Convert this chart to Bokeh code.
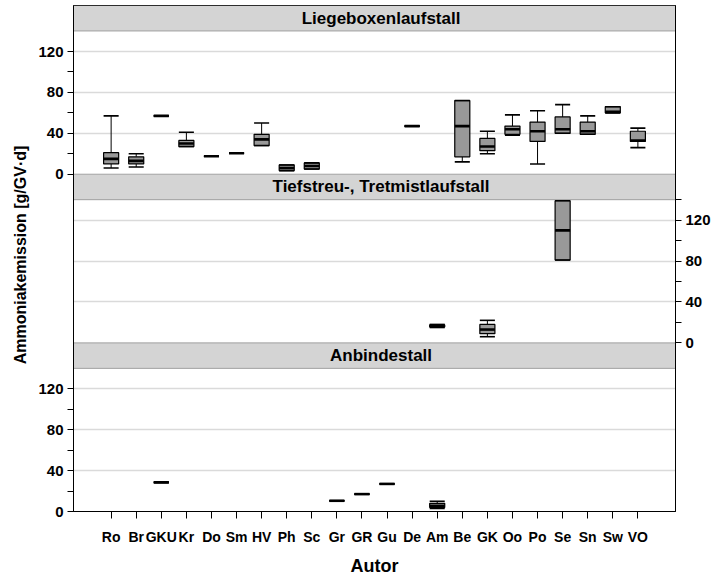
import math
from bokeh.plotting import figure
from bokeh.models import (FactorRange, Range1d, FixedTicker, BoxAnnotation,
                          ColumnDataSource, LinearAxis, CustomJSTickFormatter)
from bokeh.layouts import row
from bokeh.embed import file_html
from bokeh.resources import INLINE
from bokeh.core.properties import value

# ---------------- data ----------------
authors = ["Ro", "Br", "GKU", "Kr", "Do", "Sm", "HV", "Ph", "Sc", "Gr", "GR", "Gu",
           "De", "Am", "Be", "GK", "Oo", "Po", "Se", "Sn", "Sw", "VO"]

panel_titles = ["Liegeboxenlaufstall", "Tiefstreu-, Tretmistlaufstall", "Anbindestall"]
y_ticks = [0, 40, 80, 120]
y_minor = [20, 60, 100]

# Liegeboxenlaufstall
lb_author = ["Ro", "Br", "GKU", "Kr", "Do", "Sm", "HV", "Ph", "Sc", "De", "Be", "GK",
             "Oo", "Po", "Se", "Sn", "Sw", "VO"]
lb_low    = [6, 7, 57, 27, 17.5, 20.5, 28, 3.5, 5, 47, 12, 20, 38, 10, 40, 39, 60, 26]
lb_q1     = [10, 10, 57, 27, 17.5, 20.5, 28, 3.5, 5, 47, 17, 23, 39, 32, 40, 39, 60, 32]
lb_median = [15, 13, 57, 30, 17.5, 20.5, 34, 6, 8, 47, 47, 27, 44, 42, 44, 42, 61, 33]
lb_q3     = [21, 17, 57, 33, 17.5, 20.5, 39, 9, 11, 47, 72, 35, 47, 51, 56, 51, 66, 42]
lb_high   = [57, 20, 57, 41, 17.5, 20.5, 50, 9, 11, 47, 72, 42, 58, 62, 68, 57, 66, 45]

# Tiefstreu-, Tretmistlaufstall
ts_author = ["Am", "GK", "Se"]
ts_low    = [15, 6, 81]
ts_q1     = [15.5, 9, 81]
ts_median = [16.5, 13, 110]
ts_q3     = [17.5, 18, 139]
ts_high   = [18, 22, 139]

# Anbindestall
ab_author = ["GKU", "Gr", "GR", "Gu", "Am"]
ab_low    = [28.5, 10.5, 17, 27, 3]
ab_q1     = [28.5, 10.5, 17, 27, 4]
ab_median = [28.5, 10.5, 17, 27, 5.5]
ab_q3     = [28.5, 10.5, 17, 27, 8]
ab_high   = [28.5, 10.5, 17, 27, 10]

# ---------------- layout / styling ----------------
FONT = "Liberation Sans"
BOX_FILL = "#999999"
STRIP_FILL = "#d4d4d4"
GRID = "#dadada"
DATA_TOP = 140          # top of the value scale in each panel
PANEL_H = 165           # value scale + title strip
TOTAL_UNITS = 3 * PANEL_H
FIG_H = 578
LABEL_W = 30

x_range = FactorRange(factors=authors, range_padding=1.0, range_padding_units="absolute")
p = figure(width=690, height=FIG_H, x_range=x_range, y_range=Range1d(0, TOTAL_UNITS),
           output_backend="svg", toolbar_location=None, title=None,
           y_axis_location="left",
           min_border_left=43, min_border_right=45, min_border_top=5, min_border_bottom=66,
           outline_line_color="black", outline_line_width=1,
           background_fill_color="white", border_fill_color="white")

# panel ranges (one per panel, same scale, stacked)
names = ["top", "mid", "bot"]
bases = [2 * PANEL_H, PANEL_H, 0]
for nm, b in zip(names, bases):
    p.extra_y_ranges[nm] = Range1d(-b, TOTAL_UNITS - b)

# grid
p.xgrid.visible = False
p.ygrid.ticker = FixedTicker(ticks=[b + t for b in bases for t in (40, 80, 120)])
p.ygrid.grid_line_color = GRID
p.ygrid.grid_line_width = 1.5


def style_y(ax):
    ax.major_tick_in = 0
    ax.major_tick_out = 6
    ax.minor_tick_in = 0
    ax.minor_tick_out = 6
    ax.major_tick_line_color = "black"
    ax.minor_tick_line_color = "black"
    ax.axis_line_color = "black"
    ax.major_label_text_font = FONT
    ax.major_label_text_font_style = "bold"
    ax.major_label_text_font_size = "15px"
    ax.major_label_text_color = "black"
    ax.major_label_standoff = 4


# left axis: top and bottom panels
ya = p.yaxis[0]
ya.ticker = FixedTicker(ticks=[b + t for b in (bases[0], bases[2]) for t in y_ticks],
                        minor_ticks=[b + t for b in (bases[0], bases[2]) for t in y_minor])
ya.formatter = CustomJSTickFormatter(
    args=dict(h=PANEL_H),
    code="return String(Math.round(tick >= 2*h ? tick - 2*h : tick));")
style_y(ya)

# right axis: middle panel
yr = LinearAxis(y_range_name="mid",
                ticker=FixedTicker(ticks=y_ticks, minor_ticks=y_minor + [DATA_TOP]))
style_y(yr)
p.add_layout(yr, "right")

# x axis
xa = p.xaxis[0]
xa.major_tick_in = 0
xa.major_tick_out = 7
xa.major_tick_line_color = "black"
xa.axis_line_color = "black"
xa.major_label_text_font = FONT
xa.major_label_text_font_style = "bold"
xa.major_label_text_font_size = "14px"
xa.major_label_text_color = "black"
xa.major_label_standoff = 10
xa.axis_label = "Autor"
xa.axis_label_text_font = FONT
xa.axis_label_text_font_style = "bold"
xa.axis_label_text_font_size = "18px"
xa.axis_label_text_color = "black"
xa.axis_label_standoff = 8


def draw_panel(rng, title, author, low, q1, med, q3, high):
    strip = BoxAnnotation(bottom=DATA_TOP, top=PANEL_H, y_range_name=rng,
                          fill_color=STRIP_FILL, fill_alpha=1.0,
                          line_color="black", line_width=1, level="underlay")
    p.add_layout(strip)
    p.text(x=["Gu"], y=[(DATA_TOP + PANEL_H) / 2], text=[title], x_offset=-6,
           y_range_name=rng, text_align="center", text_baseline="middle",
           text_font=value(FONT), text_font_style="bold",
           text_font_size="17px", text_color="black")

    src = ColumnDataSource(dict(author=author, low=low, q1=q1, med=med, q3=q3, high=high))
    p.segment(x0="author", y0="q3", x1="author", y1="high", source=src, y_range_name=rng,
              line_color="black", line_width=1)
    p.segment(x0="author", y0="q1", x1="author", y1="low", source=src, y_range_name=rng,
              line_color="black", line_width=1)
    p.vbar(x="author", top="q3", bottom="q1", width=0.6, source=src, y_range_name=rng,
           fill_color=BOX_FILL, line_color="black", line_width=1.2)
    p.rect(x="author", y="high", width=0.6, height=1.6, height_units="screen",
           source=src, y_range_name=rng, fill_color="black", line_color=None)
    p.rect(x="author", y="low", width=0.6, height=1.6, height_units="screen",
           source=src, y_range_name=rng, fill_color="black", line_color=None)
    p.rect(x="author", y="med", width=0.6, height=2.6, height_units="screen",
           source=src, y_range_name=rng, fill_color="black", line_color=None)


draw_panel("top", panel_titles[0], lb_author, lb_low, lb_q1, lb_median, lb_q3, lb_high)
draw_panel("mid", panel_titles[1], ts_author, ts_low, ts_q1, ts_median, ts_q3, ts_high)
draw_panel("bot", panel_titles[2], ab_author, ab_low, ab_q1, ab_median, ab_q3, ab_high)

# y-axis title in its own narrow strip
lab = figure(width=LABEL_W, height=FIG_H, x_range=Range1d(0, LABEL_W), y_range=Range1d(0, FIG_H),
             output_backend="svg", toolbar_location=None, title=None,
             x_axis_location=None, y_axis_location=None, min_border=0,
             outline_line_color=None, background_fill_color="white",
             border_fill_color="white")
lab.grid.visible = False
lab.text(x=[20], y=[FIG_H - 285], text=["Ammoniakemission [g/GV·d]"], angle=math.pi / 2,
         text_align="center", text_baseline="middle", text_font=value(FONT),
         text_font_style="bold", text_font_size="16px", text_color="black")

layout = row(lab, p, spacing=0)

open("out.html", "w").write(file_html(layout, INLINE))
